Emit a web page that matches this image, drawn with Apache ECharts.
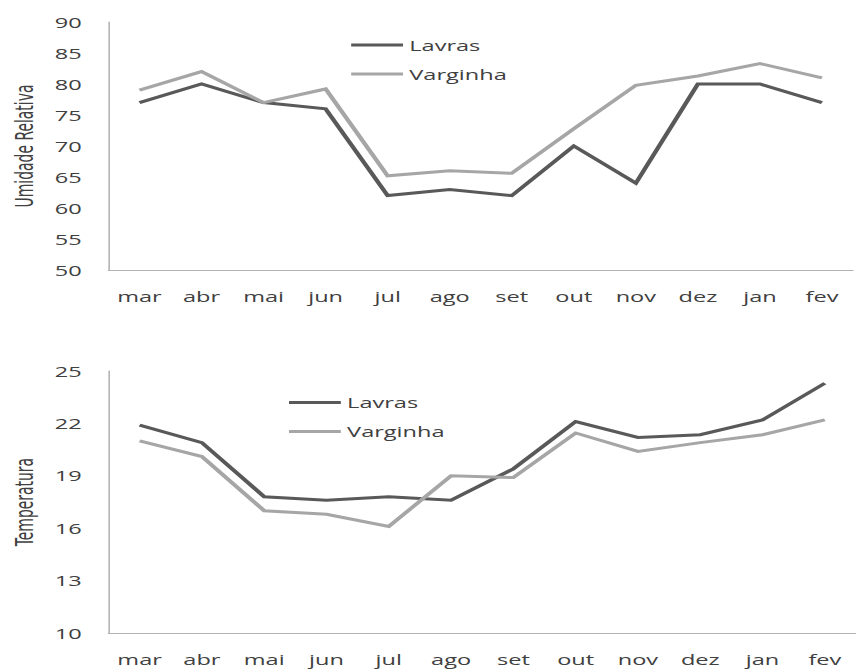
<!DOCTYPE html>
<html>
<head>
<meta charset="utf-8">
<script src="https://cdn.jsdelivr.net/npm/echarts@6/dist/echarts.min.js"></script>
<style>
  html, body { margin: 0; padding: 0; background: #fff; overflow: hidden; }
  #wrap { width: 856px; height: 669px; overflow: hidden; }
  /* the chart is laid out narrow and widened horizontally */
  #chart { width: 545px; height: 669px; transform: scaleX(1.5706); transform-origin: 0 0; }
</style>
</head>
<body>
<div id="wrap"><div id="chart"></div></div>
<script>
// months (mar → fev)
const months = ['mar', 'abr', 'mai', 'jun', 'jul', 'ago', 'set', 'out', 'nov', 'dez', 'jan', 'fev'];

// relative humidity (%)
const umidadeLavras   = [77, 80, 77, 76, 62, 63, 62, 70, 64, 80, 80, 77];
const umidadeVarginha = [79, 82, 77, 79.2, 65.2, 66, 65.6, 72.8, 79.8, 81.3, 83.3, 81];

// temperature (°C)
const tempLavras   = [21.9, 20.9, 17.8, 17.6, 17.8, 17.6, 19.4, 22.1, 21.2, 21.35, 22.2, 24.3];
const tempVarginha = [21.0, 20.1, 17.0, 16.8, 16.1, 19.0, 18.9, 21.45, 20.4, 20.9, 21.35, 22.2];

// y-axis tick labels
const umidadeTicks = [50, 55, 60, 65, 70, 75, 80, 85, 90];
const tempTicks    = [10, 13, 16, 19, 22, 25];

const seriesNames = ['Lavras', 'Varginha'];

const DARK = '#595959';
const LIGHT = '#a6a6a6';
const TEXT = '#404040';
const AXIS = '#b3b3b3';
const FONT = "'Open Sans', sans-serif";

const labelStyle = { fontFamily: FONT, fontSize: 15, color: TEXT };

function xAxisFor(gridIndex) {
  return {
    type: 'category',
    gridIndex,
    data: months,
    boundaryGap: true,
    axisLine: { show: true, lineStyle: { color: AXIS, width: 1 } },
    axisTick: { show: false },
    axisLabel: Object.assign({ margin: 19, interval: 0 }, labelStyle),
    splitLine: { show: false }
  };
}

function yAxisFor(gridIndex, name, ticks) {
  return {
    type: 'value',
    gridIndex,
    min: ticks[0],
    max: ticks[ticks.length - 1],
    name,
    nameLocation: 'middle',
    nameRotate: 90,
    nameGap: 45,
    nameTextStyle: { fontFamily: "'Liberation Sans Narrow', 'DejaVu Sans Condensed', sans-serif", fontSize: 15.5, color: TEXT },
    axisLine: { show: true, lineStyle: { color: AXIS, width: 1 } },
    axisTick: { show: false, customValues: ticks },
    axisLabel: Object.assign({ margin: 17, customValues: ticks }, labelStyle),
    splitLine: { show: false }
  };
}

function lineSeries(name, data, color, idx) {
  return {
    type: 'line',
    name,
    data,
    xAxisIndex: idx,
    yAxisIndex: idx,
    symbol: 'none',
    smooth: false,
    lineStyle: { color, width: 3, join: 'miter' },
    itemStyle: { color },
    emphasis: { disabled: true }
  };
}

function legendAt(left, top) {
  return {
    data: seriesNames,
    orient: 'vertical',
    left,
    top,
    icon: 'rect',
    itemWidth: 33,
    itemHeight: 3,
    itemGap: 14,
    padding: 0,
    selectedMode: false,
    textStyle: { fontFamily: FONT, fontSize: 15, color: TEXT, padding: [0, 0, 0, -1] }
  };
}

const chart = echarts.init(document.getElementById('chart'), null, { renderer: 'svg' });

chart.setOption({
  animation: false,
  backgroundColor: '#ffffff',
  grid: [
    { left: 68.8, top: 22, width: 474.3, height: 248 },
    { left: 68.8, top: 371, width: 485.8, height: 262 }
  ],
  legend: [legendAt(223.6, 37.5), legendAt(184, 395)],
  xAxis: [xAxisFor(0), xAxisFor(1)],
  yAxis: [
    yAxisFor(0, 'Umidade Relativa', umidadeTicks),
    yAxisFor(1, 'Temperatura', tempTicks)
  ],
  series: [
    lineSeries('Lavras', umidadeLavras, DARK, 0),
    lineSeries('Varginha', umidadeVarginha, LIGHT, 0),
    lineSeries('Lavras', tempLavras, DARK, 1),
    lineSeries('Varginha', tempVarginha, LIGHT, 1)
  ]
});
</script>
</body>
</html>
